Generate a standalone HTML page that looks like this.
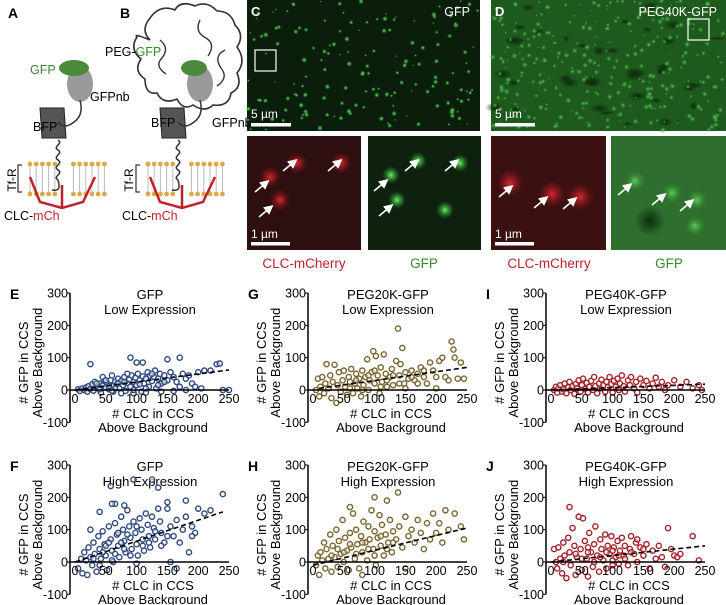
<!DOCTYPE html>
<html><head><meta charset="utf-8"><style>
body{margin:0;background:#fff;}
svg{display:block;font-family:"Liberation Sans",Arial,sans-serif;}
</style></head><body>
<svg id="fig" width="726" height="605" viewBox="0 0 726 605">
<defs>
<radialGradient id="gspot"><stop offset="0" stop-color="#6cff6c" stop-opacity="0.95"/><stop offset="1" stop-color="#2a9a2a" stop-opacity="0"/></radialGradient>
<radialGradient id="rspot"><stop offset="0" stop-color="#e02a35" stop-opacity="0.95"/><stop offset="1" stop-color="#801018" stop-opacity="0"/></radialGradient>
<radialGradient id="gspot2"><stop offset="0" stop-color="#5fd85f" stop-opacity="0.9"/><stop offset="1" stop-color="#2a7a2a" stop-opacity="0"/></radialGradient>
<radialGradient id="dspot"><stop offset="0" stop-color="#0a2a0a" stop-opacity="0.95"/><stop offset="1" stop-color="#0a2a0a" stop-opacity="0"/></radialGradient>
<marker id="ah" markerWidth="6" markerHeight="6" refX="4" refY="3" orient="auto"><path d="M0,0 L6,3 L0,6 Z" fill="#fff"/></marker>
</defs>

<!-- Panel A -->
<g>
<text x="8" y="18" font-size="14" font-weight="bold">A</text>
<g id="memA"></g>
<path d="M40,108 L64,108 L66,138 L42,138 Z" fill="#555" stroke="#222"/>
<ellipse cx="80" cy="84" rx="13" ry="18" fill="#999"/>
<ellipse cx="74" cy="68" rx="15" ry="8" fill="#4a8a3a"/>
<path d="M80,100 q4,15 -6,22 q-10,8 -16,0 M58,140 c6,4 -6,6 0,10 c6,4 -6,6 0,10 c6,4 -6,6 0,10 c6,4 -6,6 0,10 q4,12 -6,10" fill="none" stroke="#333" stroke-width="1.5"/>
<text x="30" y="74" font-size="12.5" fill="#3a8a2a">GFP</text>
<text x="90" y="101" font-size="12.5">GFPnb</text>
<text x="33" y="131" font-size="12.5">BFP</text>
<text x="16" y="180" font-size="12" transform="rotate(-90 16 180)" text-anchor="middle">Tf-R</text>
<path d="M22,165 h-4 v27 h4" fill="none" stroke="#333" stroke-width="1.2"/>
<path d="M30,177 L40,202 L62,208 L83,202 L95,177 M62,185 L62,208" fill="none" stroke="#c0222a" stroke-width="2.5"/>
<text x="4" y="220" font-size="12.5">CLC-<tspan fill="#c0222a">mCh</tspan></text>
</g>
<!-- Panel B -->
<g>
<text x="120" y="18" font-size="14" font-weight="bold">B</text>
<g id="memB"></g>
<path d="M150,40 q-10,-10 0,-22 q10,-14 25,-8 q5,-10 20,-4 q12,-6 22,5 q14,0 18,14 q10,10 2,22 q10,14 0,26 q6,14 -6,20 q-2,14 -18,12 q-8,8 -20,0 q-10,6 -16,-6 q-14,6 -20,-6 q-12,2 -12,-14 q-12,-8 -4,-20 q-12,-10 -4,-22 q-4,-4 13,3 Z" fill="none" stroke="#333" stroke-width="1.6"/>
<path d="M160,40 q10,8 2,18 q-8,8 4,16 M200,20 q-6,12 6,18 q10,6 2,18 M225,50 q-12,6 -4,18 q8,10 -4,18" fill="none" stroke="#333" stroke-width="1.4"/>
<path d="M160,108 L184,108 L186,138 L162,138 Z" fill="#555" stroke="#222"/>
<ellipse cx="200" cy="84" rx="13" ry="18" fill="#999"/>
<ellipse cx="194" cy="68" rx="13" ry="8" fill="#4a8a3a"/>
<path d="M200,100 q4,15 -6,22 q-10,8 -16,0 M178,140 c6,4 -6,6 0,10 c6,4 -6,6 0,10 c6,4 -6,6 0,10 c6,4 -6,6 0,10 q4,12 -6,10" fill="none" stroke="#333" stroke-width="1.5"/>
<text x="105" y="56" font-size="12.5">PEG-<tspan fill="#3a8a2a">GFP</tspan></text>
<text x="151" y="127" font-size="12.5">BFP</text>
<text x="212" y="127" font-size="12.5">GFPnb</text>
<text x="133" y="180" font-size="12" transform="rotate(-90 133 180)" text-anchor="middle">Tf-R</text>
<path d="M140,165 h-4 v27 h4" fill="none" stroke="#333" stroke-width="1.2"/>
<path d="M150,177 L160,202 L182,208 L203,202 L215,177 M182,185 L182,208" fill="none" stroke="#c0222a" stroke-width="2.5"/>
<text x="122" y="220" font-size="12.5">CLC-<tspan fill="#c0222a">mCh</tspan></text>
</g>

<!-- Micrographs -->
<g>
<rect x="247" y="0" width="233" height="131" fill="#0b1d0b"/>
<g id="spotsC"></g>
<text x="251" y="16" font-size="13" font-weight="bold" fill="#fff">C</text>
<text x="470" y="16" font-size="12.5" fill="#fff" text-anchor="end">GFP</text>
<rect x="255" y="50" width="21" height="21" fill="none" stroke="#fff" stroke-width="1.2"/>
<text x="251" y="118" font-size="12" fill="#fff">5 µm</text>
<rect x="251" y="123" width="40" height="3.5" fill="#fff"/>
</g>
<g>
<rect x="491" y="0" width="235" height="131" fill="#1e5a1e"/>
<g id="spotsD"></g>
<text x="495" y="16" font-size="13" font-weight="bold" fill="#fff">D</text>
<text x="717" y="16" font-size="12.5" fill="#fff" text-anchor="end">PEG40K-GFP</text>
<rect x="688" y="19" width="21" height="21" fill="none" stroke="#fff" stroke-width="1.2"/>
<text x="495" y="118" font-size="12" fill="#fff">5 µm</text>
<rect x="495" y="123" width="40" height="3.5" fill="#fff"/>
</g>
<g>
<rect x="247" y="136" width="114" height="114" fill="#2e0f0f"/>
<rect x="368" y="136" width="113" height="114" fill="#0e200e"/>
<rect x="491" y="136" width="115" height="114" fill="#3a1010"/>
<rect x="611" y="136" width="115" height="114" fill="#2e6e2e"/>
<g id="insets"></g>
<text x="251" y="238" font-size="12" fill="#fff">1 µm</text>
<rect x="251" y="242" width="39" height="3.5" fill="#fff"/>
<text x="495" y="238" font-size="12" fill="#fff">1 µm</text>
<rect x="495" y="242" width="39" height="3.5" fill="#fff"/>
<text x="304" y="268" font-size="13.5" fill="#c0222a" text-anchor="middle">CLC-mCherry</text>
<text x="424" y="268" font-size="13.5" fill="#3a8a2a" text-anchor="middle">GFP</text>
<text x="549" y="268" font-size="13.5" fill="#c0222a" text-anchor="middle">CLC-mCherry</text>
<text x="669" y="268" font-size="13.5" fill="#3a8a2a" text-anchor="middle">GFP</text>
</g>
<g id="plots"></g>
</svg>
<script>
// ---- chart data (CLC count, GFP count) per panel ----
const panelLetters = ["E","F","G","H","I","J"];
const panelTitles = ["GFP","GFP","PEG20K-GFP","PEG20K-GFP","PEG40K-GFP","PEG40K-GFP"];
const panelSubtitles = ["Low Expression","High Expression","Low Expression","High Expression","Low Expression","High Expression"];
const xTicks = [0,50,100,150,200,250];
const yTicks = [300,200,100,0,-100];
const dataE = "5,2 8,-3 12,5 15,0 18,8 20,-5 22,12 25,3 28,18 30,-2 32,25 35,10 38,5 40,20 42,-8 45,15 48,28 50,8 52,22 55,2 58,30 60,12 62,-5 65,25 68,18 70,35 72,5 75,28 78,15 80,40 82,-3 85,22 88,32 90,10 92,45 95,25 98,38 100,15 102,50 105,30 108,-5 110,42 112,20 115,35 118,55 120,10 122,45 125,28 128,40 130,60 132,5 135,35 138,50 140,20 145,45 150,30 155,55 160,40 165,25 170,10 175,50 180,35 185,45 190,20 200,55 210,60 220,60 230,80 235,82 240,0 250,0 25,80 90,100 100,85 110,85 150,95 170,100 195,10 205,5 45,40 60,45 75,-10 95,-10 115,-8 140,-5 160,-3 180,0 35,20 50,30 65,5 80,25 95,0 105,18 115,5 125,50 135,15 145,25 85,50 70,20 55,12 40,2 60,-2";
const dataF = "5,-20 10,10 12,-35 15,30 18,5 20,-40 22,45 25,15 28,-10 30,60 32,25 35,-30 38,80 40,40 42,10 45,95 48,55 50,20 52,-25 55,110 58,70 60,35 62,0 65,120 68,85 70,50 72,15 75,140 78,100 80,65 82,30 85,160 88,110 90,75 92,40 95,125 98,90 100,55 102,20 105,135 108,100 110,70 112,35 115,150 118,115 120,80 122,45 125,140 128,105 130,70 135,165 138,125 140,90 145,60 150,165 155,110 160,80 165,130 170,60 175,100 180,140 185,30 190,110 195,90 200,165 210,150 220,160 240,210 180,190 150,185 40,155 58,235 65,180 95,255 125,255 135,230 25,100 60,180 80,175 190,80 165,-20 155,0 100,-5 30,10 40,-10 50,50 60,5 70,90 80,40 90,20 100,110 110,50 120,60 130,95 140,50 150,80 45,30 55,60 65,25 75,60 85,85";
const dataG = "5,0 8,35 10,-20 12,10 15,40 18,-10 20,20 22,80 25,5 28,45 30,-25 32,25 35,78 38,-40 40,15 42,55 45,-5 48,30 50,60 52,10 55,-15 58,40 60,25 62,65 65,-10 68,20 70,50 72,5 75,35 78,-20 80,60 82,15 85,40 88,95 90,0 92,30 95,55 98,120 100,20 102,105 105,45 108,-10 110,70 112,25 115,110 118,50 120,10 125,40 128,65 130,15 135,90 138,190 140,45 142,80 145,130 148,20 150,55 155,35 160,60 165,30 170,50 175,70 180,40 185,20 190,85 195,60 200,5 205,90 210,100 215,40 220,30 225,150 228,125 230,100 235,35 240,85 245,35 200,40 180,60 60,5 70,30 80,0 90,45 100,60 110,10 120,30 130,45 140,20 150,5 160,40 170,20";
const dataH = "5,-10 8,20 10,-40 12,30 15,5 18,60 20,-20 22,40 25,10 28,85 30,-30 32,50 35,15 38,100 40,-15 42,65 45,25 48,130 50,0 52,75 55,35 58,-25 60,90 62,45 65,150 68,10 70,100 72,55 75,-20 78,80 80,30 82,125 85,60 88,5 90,110 92,70 95,160 98,40 100,95 102,-10 105,75 108,145 110,50 112,115 115,20 118,85 120,190 122,60 125,130 128,30 130,95 135,70 138,215 140,110 145,45 150,140 155,80 160,100 165,60 170,130 175,90 180,40 185,120 190,70 195,150 200,90 205,120 210,60 215,160 220,100 230,150 240,110 245,70 60,170 100,200 80,-40 150,-20 30,20 40,40 50,30 60,55 70,25 80,60 90,40 100,20 110,80 120,40 130,60";
const dataI = "5,0 8,10 10,-8 12,5 15,15 18,-5 20,2 22,20 25,-10 28,8 30,25 32,0 35,12 38,-12 40,18 42,5 45,30 48,-5 50,15 52,35 55,3 58,22 60,-8 62,10 65,28 68,0 70,40 72,12 75,-10 78,20 80,5 82,32 85,15 88,-5 90,25 92,8 95,40 98,18 100,-8 102,28 105,10 108,35 110,0 112,20 115,45 118,12 120,-5 125,30 128,15 130,40 135,5 138,25 140,-8 145,35 150,15 155,28 160,5 165,20 170,38 175,10 180,25 185,0 190,15 200,30 210,10 220,25 230,5 240,15 245,0";
const dataJ = "5,40 8,0 10,-20 12,45 15,10 18,-35 20,60 22,20 25,-50 28,75 30,30 32,-10 35,105 38,50 40,-40 42,15 45,140 48,40 50,-25 52,135 55,65 58,10 60,-45 62,90 65,30 68,-15 70,55 72,110 75,20 78,-30 80,70 82,40 85,5 88,85 90,-20 92,50 95,25 98,80 100,-10 102,45 105,15 108,65 110,-5 112,35 115,75 118,20 120,50 125,-10 128,40 130,80 135,25 138,60 140,0 145,45 150,20 155,55 160,-20 165,35 170,10 175,50 180,15 185,-15 190,105 195,40 200,20 205,15 210,25 230,80 240,5 30,170 60,45 100,5 140,70 20,0 40,25 50,10 60,30 70,0 80,15 90,30 100,35 110,20 120,10 130,30 150,40";
const fitStart = [[0,0],[0,0],[10,5],[0,-10],[0,0],[0,0]];
const fitEnd = [[250,62],[240,155],[250,70],[250,105],[250,18],[250,50]];
const panelData = [dataE,dataF,dataG,dataH,dataI,dataJ];

const NS="http://www.w3.org/2000/svg";
function mk(tag,attrs,parent){const e=document.createElementNS(NS,tag);for(const k in attrs)e.setAttribute(k,attrs[k]);parent.appendChild(e);return e;}
const colors=["#2f4a7f","#2f4a7f","#7a6530","#7a6530","#a3222a","#a3222a"];
const plots=document.getElementById("plots");
for(let p=0;p<6;p++){
  const col=Math.floor(p/2), row=p%2;
  const ax=70+col*238, y0=row?562:390, yTop=row?465:293;
  const sy=(y0-yTop)/300;
  const X=v=>ax+5+v*0.616;
  const Y=v=>y0-v*sy;
  const g=mk("g",{},plots);
  
  
  const lt=mk("text",{x:ax-60,y:yTop+6,"font-size":14,"font-weight":"bold"},g);lt.textContent=panelLetters[p];
  const t1=mk("text",{x:ax+80,y:yTop+6,"font-size":13,"text-anchor":"middle"},g);t1.textContent=panelTitles[p];
  
  
  const t2=mk("text",{x:ax+80,y:yTop+21,"font-size":13,"text-anchor":"middle"},g);t2.textContent=panelSubtitles[p];
  const cy=Y(100)+5;
  const yl1=mk("text",{x:ax-42,y:cy,"font-size":13,"text-anchor":"middle",transform:`rotate(-90 ${ax-42} ${cy})`},g);yl1.textContent="# GFP in CCS";
  
  
  const yl2=mk("text",{x:ax-28,y:cy,"font-size":13,"text-anchor":"middle",transform:`rotate(-90 ${ax-28} ${cy})`},g);yl2.textContent="Above Background";
  // points
  panelData[p].split(" ").forEach(s=>{const [a,b]=s.split(",").map(Number);
    const c=mk("circle",{cx:X(a),cy:Y(b),r:2.6,fill:"#fff","fill-opacity":0.5,stroke:colors[p],"stroke-width":1.4},g);
    
    
  });
  // axes
  mk("line",{x1:ax,y1:Y(300),x2:ax,y2:Y(-100),stroke:"#000","stroke-width":1.5},g);
  mk("line",{x1:ax,y1:Y(0),x2:X(250),y2:Y(0),stroke:"#000","stroke-width":1.5},g);
  yTicks.forEach(v=>{mk("line",{x1:ax-3,y1:Y(v),x2:ax,y2:Y(v),stroke:"#000"},g);
    const t=mk("text",{x:ax-2,y:Y(v)+4.5,"font-size":12.5,"text-anchor":"end"},g);t.textContent=v;
    
    });
  xTicks.forEach(v=>{const t=mk("text",{x:X(v),y:Y(0)+13,"font-size":12.5,"text-anchor":"middle"},g);t.textContent=v;
    
    });
  const fl=mk("line",{x1:X(fitStart[p][0]),y1:Y(fitStart[p][1]),x2:X(fitEnd[p][0]),y2:Y(fitEnd[p][1]),stroke:"#000","stroke-width":1.6,"stroke-dasharray":"5,3"},g);
  
  
  const xl1=mk("text",{x:ax+83,y:Y(0)+28,"font-size":13,"text-anchor":"middle"},g);xl1.textContent="# CLC in CCS";
  
  
  const xl2=mk("text",{x:ax+83,y:Y(0)+42,"font-size":13,"text-anchor":"middle"},g);xl2.textContent="Above Background";
}
// membranes
function membrane(id,x0){const g=document.getElementById(id);
  for(let i=0;i<13;i++){const x=x0+i*6.2; if(i===5||i===6)continue;
    mk("line",{x1:x,y1:165,x2:x,y2:193,stroke:"#bbb","stroke-width":1},g);
    mk("circle",{cx:x,cy:164,r:2.4,fill:"#d9a94a"},g);
    mk("circle",{cx:x,cy:194,r:2.4,fill:"#d9a94a"},g);}
}
membrane("memA",30);membrane("memB",148);
// micrograph textures (decorative, seeded)
let seed=7;function rnd(){seed=(seed*16807)%2147483647;return seed/2147483647;}
const sc=document.getElementById("spotsC");
for(let i=0;i<160;i++){mk("circle",{cx:248+rnd()*231,cy:1+rnd()*129,r:1+rnd()*2.2,fill:"url(#gspot)"},sc);}
const sd=document.getElementById("spotsD");
for(let i=0;i<40;i++){mk("ellipse",{cx:492+rnd()*233,cy:1+rnd()*129,rx:3+rnd()*8,ry:2+rnd()*4,fill:"url(#dspot)"},sd);}
for(let i=0;i<300;i++){mk("circle",{cx:492+rnd()*233,cy:1+rnd()*129,r:1+rnd()*2.5,fill:"url(#gspot2)"},sd);}
const ins=document.getElementById("insets");
[[297,163],[341,163],[270,177],[280,200]].forEach(([x,y])=>mk("circle",{cx:x,cy:y,r:11,fill:"url(#rspot)"},ins));
[[418,161],[460,163],[391,175],[397,200],[445,210]].forEach(([x,y])=>mk("circle",{cx:x,cy:y,r:9,fill:"url(#gspot)"},ins));
[[510,183],[552,194],[580,197]].forEach(([x,y])=>mk("circle",{cx:x,cy:y,r:14,fill:"url(#rspot)"},ins));
[[635,181],[672,193],[697,200],[695,226]].forEach(([x,y])=>mk("circle",{cx:x,cy:y,r:11,fill:"url(#gspot2)"},ins));
mk("circle",{cx:650,cy:221,r:15,fill:"url(#dspot)"},ins);
[[283,171],[328,171],[255,192],[259,217],[405,171],[445,171],[374,191],[379,216],[499,197],[534,208],[563,209],[618,195],[652,205],[680,211]].forEach(([x,y])=>
  mk("line",{x1:x,y1:y,x2:x+12,y2:y-10,stroke:"#fff","stroke-width":1.6,"marker-end":"url(#ah)"},ins));
</script>
</body></html>
